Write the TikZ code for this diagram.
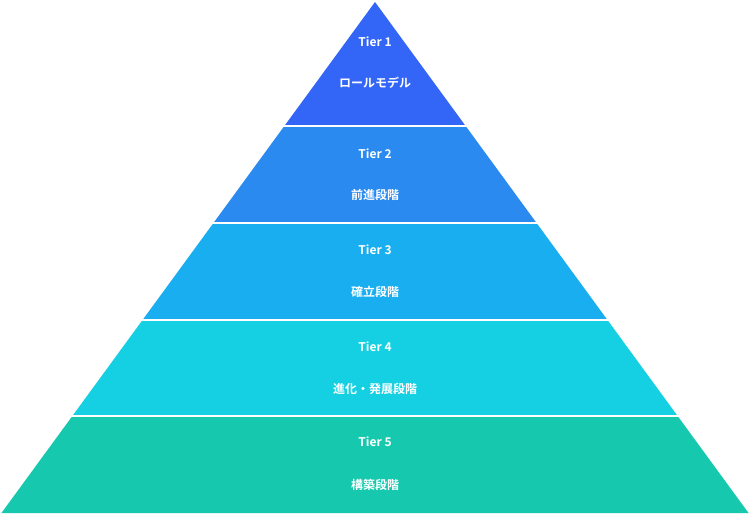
\documentclass[tikz,border=0pt]{standalone}
\usepackage{fontspec}
\newfontfamily\jp{Noto Sans CJK JP}[BoldFont={* Bold}]
\definecolor{c1}{HTML}{3366F7}
\definecolor{c2}{HTML}{2A8AF0}
\definecolor{c3}{HTML}{18AEF0}
\definecolor{c4}{HTML}{14D0E2}
\definecolor{c5}{HTML}{16C9AE}
\begin{document}
\begin{tikzpicture}[x=1pt,y=-1pt,
  lab/.style={text=white,font=\jp\bfseries\fontsize{12}{14}\selectfont},
  tier/.style={draw=white,line width=1.5pt,line join=miter}]
\useasboundingbox (0,0) rectangle (750,518);
\def\k{0.731}
\foreach \t/\b/\c in {2/126/c1,126/223/c2,223/320/c3,320/416/c4,416/513/c5}{
  \pgfmathsetmacro\wt{\k*(\t-2)}
  \pgfmathsetmacro\wb{\k*(\b-2)}
  \fill[\c] (375-\wt,\t) -- (375+\wt,\t) -- (375+\wb,\b) -- (375-\wb,\b) -- cycle;
}
\foreach \y in {126,223,320,416}{
  \pgfmathsetmacro\w{\k*(\y-2)+2}
  \draw[white,line width=1.5pt] (375-\w,\y) -- (375+\w,\y);
}
\node[lab] (t1) at (375,42) {Tier 1};
\node[lab] (n1) at (375,83) {ロールモデル};
\node[lab] (t2) at (375,154) {Tier 2};
\node[lab] (n2) at (375,195) {前進段階};
\node[lab] (t3) at (375,250) {Tier 3};
\node[lab] (n3) at (375,292) {確立段階};
\node[lab] (t4) at (375,347) {Tier 4};
\node[lab] (n4) at (375,389) {進化・発展段階};
\node[lab] (t5) at (375,442) {Tier 5};
\node[lab] (n5) at (375,485) {構築段階};
\end{tikzpicture}
\end{document}
